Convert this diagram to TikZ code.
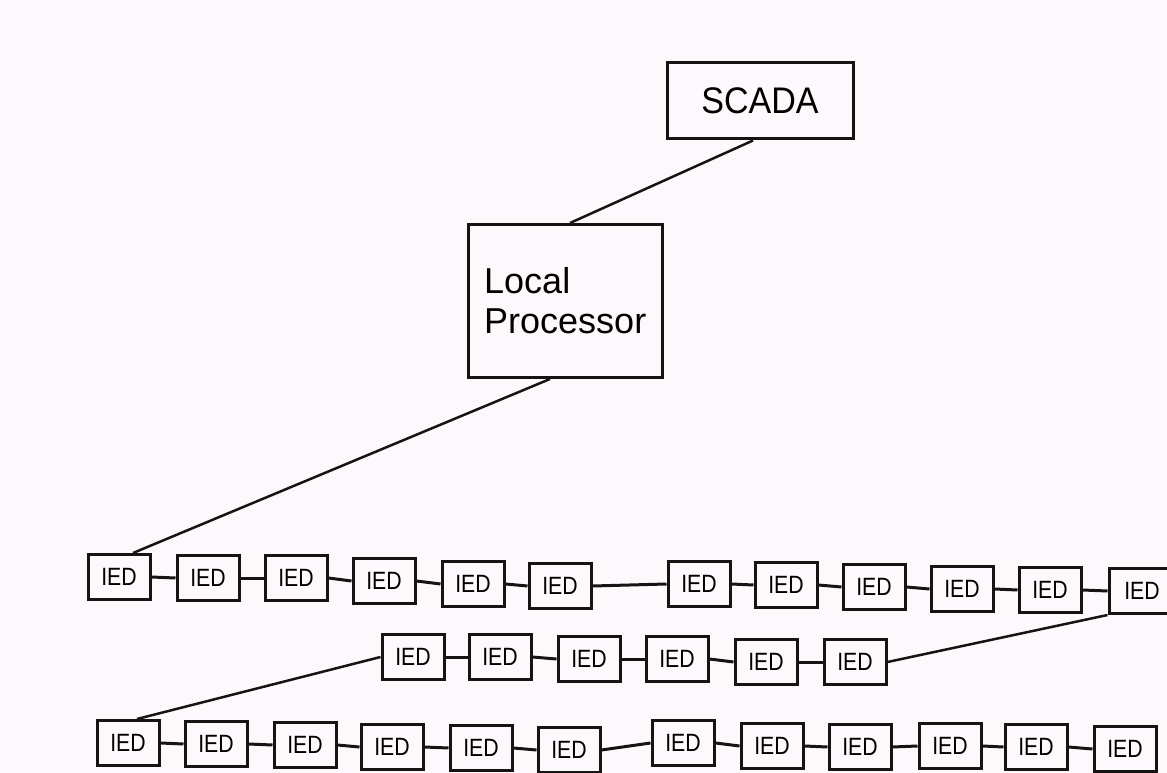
\documentclass[tikz,border=0pt]{standalone}
\usepackage{fontspec}
\setmainfont{Liberation Sans}
\definecolor{paper}{HTML}{FDF8FC}
\definecolor{ink}{HTML}{141414}
\begin{document}
\begin{tikzpicture}[x=1pt,y=-1pt,
  ied/.style={draw=ink, line width=3pt, minimum width=62pt, minimum height=45pt, inner sep=0pt,
    font=\fontsize{25}{25}\selectfont, text=black},
  bigbox/.style={draw=ink, line width=3pt, inner sep=0pt, text=black},
  wire/.style={draw=ink, line width=3pt},
  link/.style={draw=ink, line width=2.5pt}]
\clip (0,0) rectangle (1167,773);
\fill[paper] (0,0) rectangle (1167,773);
\newcommand{\iedtxt}{\scalebox{0.85}[1]{IED}}
% SCADA and local processor
\node[bigbox, minimum width=186pt, minimum height=76pt, font=\fontsize{37}{37}\selectfont] (scada) at (760,101) {\scalebox{0.92}[1]{SCADA}};
\node[bigbox, minimum width=194pt, minimum height=153pt, font=\fontsize{36}{40}\selectfont] (lp) at (565,301) {};
\node[anchor=west, font=\fontsize{36}{40}\selectfont, align=left, inner sep=0pt, text=black] (lptxt) at (484,301) {Local\\Processor};
% top row
\node[ied] (t1) at (119,577) {\iedtxt};
\node[ied] (t2) at (208,578) {\iedtxt};
\node[ied] (t3) at (296,578) {\iedtxt};
\node[ied] (t4) at (384,581) {\iedtxt};
\node[ied] (t5) at (473,584) {\iedtxt};
\node[ied] (t6) at (560,586) {\iedtxt};
\node[ied] (t7) at (699,584) {\iedtxt};
\node[ied] (t8) at (786,585) {\iedtxt};
\node[ied] (t9) at (874,587) {\iedtxt};
\node[ied] (t10) at (962,589) {\iedtxt};
\node[ied] (t11) at (1050,590) {\iedtxt};
\node[ied, minimum width=66pt] (t12) at (1142,591) {\iedtxt};
% middle row
\node[ied] (m1) at (413,657) {\iedtxt};
\node[ied] (m2) at (500,657) {\iedtxt};
\node[ied] (m3) at (589,659) {\iedtxt};
\node[ied] (m4) at (677,659) {\iedtxt};
\node[ied] (m5) at (766,662) {\iedtxt};
\node[ied] (m6) at (855,662) {\iedtxt};
% bottom row
\node[ied] (b1) at (128,743) {\iedtxt};
\node[ied] (b2) at (216,744) {\iedtxt};
\node[ied] (b3) at (305,745) {\iedtxt};
\node[ied] (b4) at (392,747) {\iedtxt};
\node[ied] (b5) at (481,748) {\iedtxt};
\node[ied] (b6) at (569,750) {\iedtxt};
\node[ied] (b7) at (683,743) {\iedtxt};
\node[ied] (b8) at (772,746) {\iedtxt};
\node[ied] (b9) at (860,747) {\iedtxt};
\node[ied] (b10) at (950,746) {\iedtxt};
\node[ied] (b11) at (1036,747) {\iedtxt};
\node[ied] (b12) at (1125,749) {\iedtxt};
% long links
\draw[link] ([xshift=-7pt]scada.south) -- ([xshift=5pt]lp.north);
\draw[link] ([xshift=-15pt]lp.south) -- ([xshift=14pt]t1.north);
\draw[link] (t12.south west) -- (m6.east);
\draw[link] (m1.west) -- ([xshift=9pt]b1.north);
% chains
\foreach \a/\b in {t1/t2,t2/t3,t3/t4,t4/t5,t5/t6,t6/t7,t7/t8,t8/t9,t9/t10,t10/t11,t11/t12,
  m1/m2,m2/m3,m3/m4,m4/m5,m5/m6,
  b1/b2,b2/b3,b3/b4,b4/b5,b5/b6,b6/b7,b7/b8,b8/b9,b9/b10,b10/b11,b11/b12}
  \draw[wire] (\a.east) -- (\b.west);
\end{tikzpicture}
\end{document}
